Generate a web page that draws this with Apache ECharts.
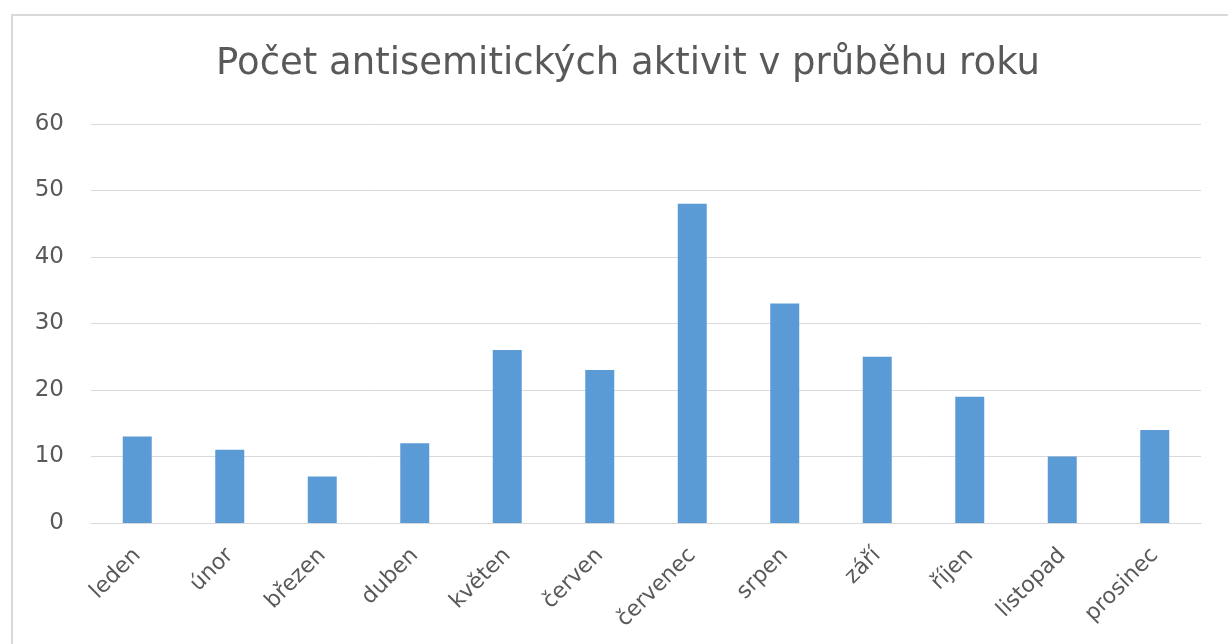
<!DOCTYPE html>
<html>
<head>
<meta charset="utf-8">
<script src="https://cdn.jsdelivr.net/npm/echarts@6/dist/echarts.min.js"></script>
<style>
html,body{margin:0;padding:0;background:#fff;}
#frame{position:absolute;left:11px;top:14px;width:1240px;height:660px;border:2px solid #d9d9d9;box-sizing:border-box;}
#chart{position:absolute;left:0;top:0;width:1228px;height:644px;}
</style>
</head>
<body>
<div id="frame"></div>
<div id="chart"></div>
<script>
const titleText = "Počet antisemitických aktivit v průběhu roku";
const categories = ["leden","únor","březen","duben","květen","červen","červenec","srpen","září","říjen","listopad","prosinec"];
const values = [13, 11, 7, 12, 26, 23, 48, 33, 25, 19, 10, 14];
const yTicks = {min: 0, max: 60, interval: 10};

const chart = echarts.init(document.getElementById('chart'), null, {renderer: 'canvas'});
chart.setOption({
  animation: false,
  backgroundColor: 'transparent',
  title: {
    text: titleText,
    left: 623, top: 41, textAlign: 'center',
    textStyle: {fontFamily: 'DejaVu Sans', fontSize: 37, fontWeight: 'normal', color: '#595959'}
  },
  grid: {left: 91, right: 27, top: 124, bottom: 121, containLabel: false},
  xAxis: {
    type: 'category',
    data: categories,
    axisLine: {show: true, lineStyle: {color: '#d9d9d9', width: 1}},
    axisTick: {show: false},
    axisLabel: {rotate: 45, color: '#595959', fontFamily: 'DejaVu Sans', fontSize: 22, margin: 29, interval: 0}
  },
  yAxis: {
    type: 'value',
    min: yTicks.min, max: yTicks.max, interval: yTicks.interval,
    axisLine: {show: false},
    axisTick: {show: false},
    splitLine: {lineStyle: {color: '#d9d9d9', width: 1}},
    axisLabel: {color: '#595959', fontFamily: 'DejaVu Sans', fontSize: 23, margin: 27}
  },
  series: [{
    type: 'bar',
    data: values,
    barWidth: 29,
    itemStyle: {color: '#5b9bd5'}
  }]
});
</script>
</body>
</html>
